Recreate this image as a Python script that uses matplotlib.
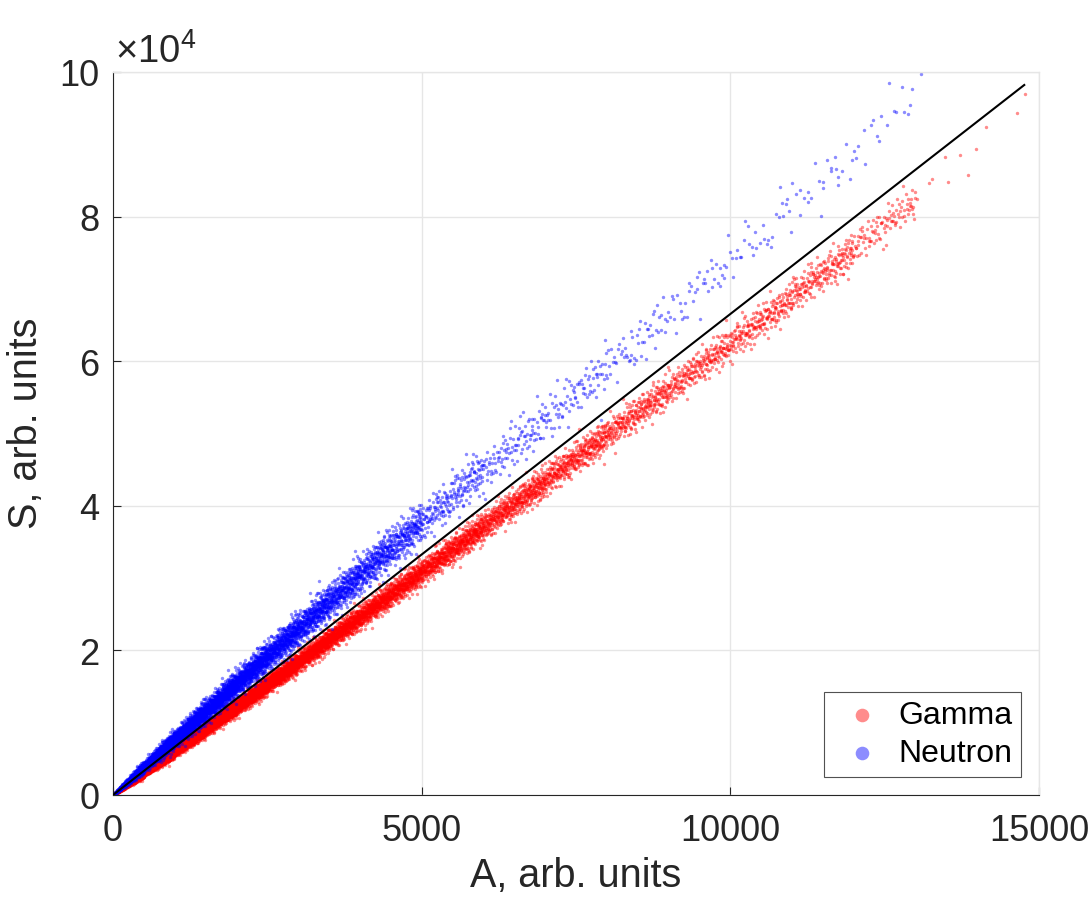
import numpy as np
import matplotlib
matplotlib.use("Agg")
import matplotlib.pyplot as plt

plt.rcParams['font.family'] = ['Liberation Sans', 'DejaVu Sans']
plt.rcParams['mathtext.fontset'] = 'custom'
plt.rcParams['mathtext.rm'] = 'Liberation Sans'

# amplitude bins (A, arb. units)
bin_lo = [0, 500, 1000, 1500, 2000, 2500, 3000, 3500, 4000, 4500,
          5000, 6000, 7000, 8000, 9000, 10000, 11000, 12000, 13000, 14000]
bin_hi = [500, 1000, 1500, 2000, 2500, 3000, 3500, 4000, 4500, 5000,
          6000, 7000, 8000, 9000, 10000, 11000, 12000, 13000, 14000, 15000]

# gamma events: count per bin, mean S/A, relative spread of S
gamma_count = [1500, 1500, 1300, 1100, 900, 750, 600, 500, 450, 400,
               650, 480, 380, 280, 230, 210, 200, 100, 8, 3]
gamma_ratio = [5.95, 6.00, 6.05, 6.08, 6.10, 6.12, 6.14, 6.15, 6.16, 6.17,
               6.18, 6.20, 6.22, 6.23, 6.24, 6.25, 6.28, 6.32, 6.38, 6.55]
gamma_rel = [0.095, 0.065, 0.052, 0.045, 0.041, 0.038, 0.035, 0.033, 0.031, 0.029,
             0.027, 0.025, 0.023, 0.021, 0.019, 0.018, 0.017, 0.016, 0.015, 0.012]

# neutron events
neutron_count = [800, 900, 800, 700, 600, 500, 400, 330, 280, 220,
                 200, 110, 85, 55, 40, 30, 25, 18, 1, 0]
neutron_ratio = [7.75, 7.75, 7.72, 7.70, 7.68, 7.66, 7.64, 7.62, 7.60, 7.57,
                 7.52, 7.45, 7.40, 7.38, 7.38, 7.38, 7.40, 7.45, 7.50, 7.50]
neutron_rel = [0.110, 0.080, 0.068, 0.060, 0.054, 0.049, 0.045, 0.042, 0.040, 0.038,
               0.035, 0.032, 0.030, 0.027, 0.025, 0.023, 0.021, 0.020, 0.018, 0.018]

# discrimination line
line_A = [0, 14760]
line_S = [0, 98200]


def halton(idx, base):
    # radical inverse of idx in the given base
    out = np.zeros(len(idx))
    f = 1.0 / base
    i = idx.copy()
    while np.any(i > 0):
        out += f * (i % base)
        i //= base
        f /= base
    return out


def band(counts, ratios, rels, start):
    # place events in each bin along quasi-random sequences
    a_all, s_all = [], []
    pos = start
    for k, n in enumerate(counts):
        if n == 0:
            continue
        idx = np.arange(pos, pos + n)
        pos += n
        a = bin_lo[k] + (bin_hi[k] - bin_lo[k]) * halton(idx, 2)
        u1 = np.clip(halton(idx, 3), 1e-4, 1.0)
        u2 = halton(idx, 5)
        z = np.sqrt(-2.0 * np.log(u1)) * np.cos(2 * np.pi * u2)
        s = ratios[k] * a * (1.0 + rels[k] * z)
        a_all.append(a)
        s_all.append(s)
    return np.concatenate(a_all), np.concatenate(s_all)


gA, gS = band(gamma_count, gamma_ratio, gamma_rel, 17)
nA, nS = band(neutron_count, neutron_ratio, neutron_rel, 40011)

fig = plt.figure(figsize=(10.91, 9.03), dpi=100)
ax = fig.add_axes([0.1036, 0.1185, 0.8488, 0.8007])

ax.scatter(gA, gS, s=6, c='#ff0000', alpha=0.45, linewidths=0, label='Gamma', zorder=2)
ax.scatter(nA, nS, s=6, c='#0000ff', alpha=0.45, linewidths=0, label='Neutron', zorder=2)
ax.plot(line_A, line_S, color='black', lw=1.5, zorder=3)

ax.set_xlim(0, 15000)
ax.set_ylim(0, 1e5)
ax.set_xticks([0, 5000, 10000, 15000])
ax.set_yticks([0, 2e4, 4e4, 6e4, 8e4, 1e5])
ax.set_yticklabels(['0', '2', '4', '6', '8', '10'])
ax.grid(True, color='#e6e6e6', lw=1.0, zorder=0)
ax.set_axisbelow(True)

for side in ['left', 'bottom']:
    ax.spines[side].set_color('#262626')
    ax.spines[side].set_linewidth(0.8)
for side in ['top', 'right']:
    ax.spines[side].set_color('#e6e6e6')
    ax.spines[side].set_linewidth(1.0)

ax.tick_params(direction='in', length=6, width=0.8, color='#262626',
               labelsize=26, labelcolor='#262626')
ax.tick_params(axis='x', pad=13)
ax.tick_params(axis='y', pad=10)

ax.set_xlabel('A, arb. units', fontsize=28.5, color='#262626', labelpad=6)
ax.set_ylabel('S, arb. units', fontsize=28.5, color='#262626')
ax.yaxis.set_label_coords(-0.073, 0.515)

ax.text(0.002, 1 + 10 / 723, r'$\times\mathregular{10^4}$', transform=ax.transAxes,
        ha='left', va='baseline', fontsize=27.5, color='#262626')

leg = ax.legend(loc='lower right', bbox_to_anchor=(0.9806, 0.0249), borderaxespad=0,
                fontsize=23, markerscale=4.0, frameon=True, fancybox=False,
                edgecolor='#262626', borderpad=0.27, labelspacing=0.25,
                handlelength=1.85, handletextpad=0.2)
leg.get_frame().set_linewidth(0.8)

fig.savefig('out.png', dpi=100)
